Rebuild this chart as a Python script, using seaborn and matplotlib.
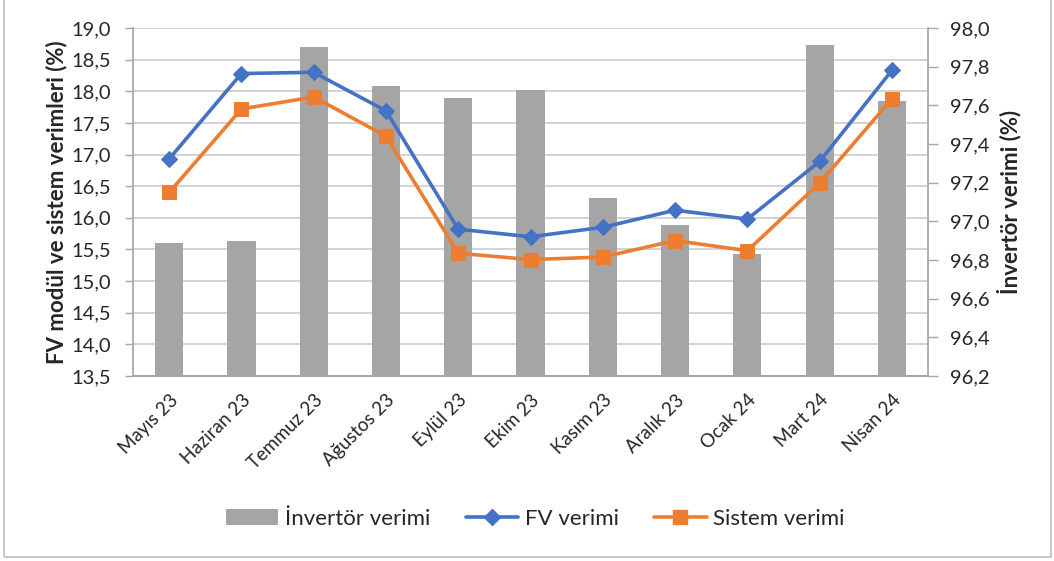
import numpy as np
import pandas as pd
import matplotlib
matplotlib.use("Agg")
import matplotlib.pyplot as plt
import matplotlib.transforms as mtransforms
from matplotlib.patches import Rectangle, Patch
from matplotlib.lines import Line2D
import seaborn as sns

# ---------------------------------------------------------
# DATA
# ---------------------------------------------------------
months = ["Mayıs 23", "Haziran 23", "Temmuz 23", "Ağustos 23", "Eylül 23", "Ekim 23",
          "Kasım 23", "Aralık 23", "Ocak 24", "Mart 24", "Nisan 24"]
inverter_eff = [96.89, 96.90, 97.90, 97.70, 97.64, 97.68, 97.12, 96.98, 96.83, 97.91, 97.62]
fv_eff = [16.93, 18.28, 18.30, 17.69, 15.82, 15.70, 15.85, 16.12, 15.98, 16.89, 18.33]
system_eff = [16.40, 17.72, 17.91, 17.29, 15.44, 15.34, 15.38, 15.64, 15.48, 16.55, 17.88]

left_ticks = np.arange(13.5, 19.01, 0.5)
right_ticks = np.arange(96.2, 98.01, 0.2)

df = pd.DataFrame({"pos": np.arange(len(months)), "month": months,
                   "inv": inverter_eff, "fv": fv_eff, "sys": system_eff})

BLUE = "#4472C4"
ORANGE = "#ED7D31"
GRAY = "#A5A5A5"
AXIS_GRAY = "#A6A6A6"

sns.set_theme(style="white")
plt.rcParams["font.family"] = ["Lato", "DejaVu Sans"]

fig = plt.figure(figsize=(10.54, 5.61), dpi=100)
ax = fig.add_axes([0.1262, 0.3298, 0.8805 - 0.1262, 0.9501 - 0.3298])
ax2 = ax.twinx()

# bars on the right axis
sns.barplot(data=df, x="pos", y="inv", ax=ax2, color=GRAY, width=0.39,
            saturation=1, edgecolor="none", zorder=2)
ax2.set_ylim(96.2, 98.0)

# lines on the left axis
sns.lineplot(data=df, x="pos", y="fv", ax=ax, color=BLUE, lw=2.6, marker="D",
             markersize=8.5, markeredgecolor=BLUE, sort=False, zorder=3)
sns.lineplot(data=df, x="pos", y="sys", ax=ax, color=ORANGE, lw=2.6, marker="s",
             markersize=10, markeredgecolor=ORANGE, sort=False, zorder=3)
ax.set_ylim(13.5, 19.0)
ax.set_xlim(-0.5, len(months) - 0.5)

# lines above bars
ax.set_zorder(ax2.get_zorder() + 1)
ax.patch.set_visible(False)

# gridlines following the left axis, drawn behind the bars
trans = mtransforms.blended_transform_factory(ax2.transAxes, ax.transData)
for v in left_ticks:
    ax2.plot([0, 1], [v, v], transform=trans, color="#C8C8C8", lw=1.1, zorder=0)

# x axis: tick marks between categories, labels at centres
ax.set_xticks(np.arange(-0.5, len(months), 1))
ax.set_xticklabels([])
ax.set_xticks(np.arange(len(months)), minor=True)
ax.set_xticklabels(months, minor=True, rotation=45, ha="right", rotation_mode="anchor",
                   fontsize=13.5)
ax.tick_params(axis="x", which="major", length=7, width=1, color=AXIS_GRAY, direction="out")
ax.tick_params(axis="x", which="minor", length=0, pad=11)
ax.set_xlabel("")

ax.set_yticks(left_ticks)
ax.set_yticklabels([f"{v:.1f}".replace(".", ",") for v in left_ticks], fontsize=14.5)
ax.tick_params(axis="y", length=6, width=1, color=AXIS_GRAY, direction="out", pad=10)
ax2.set_yticks(right_ticks)
ax2.set_yticklabels([f"{v:.1f}".replace(".", ",") for v in right_ticks], fontsize=14.5)
ax2.tick_params(axis="y", length=7, width=1, color=AXIS_GRAY, direction="out", pad=9)

ax.set_ylabel("FV modül ve sistem verimleri (%)", fontsize=16, fontweight="bold", labelpad=3)
ax2.set_ylabel("İnvertör verimi (%)", fontsize=16, fontweight="bold", labelpad=5)

for a in (ax, ax2):
    a.spines["top"].set_visible(False)
    a.spines["left"].set_color(AXIS_GRAY)
    a.spines["right"].set_color(AXIS_GRAY)
    a.spines["bottom"].set_color(AXIS_GRAY)
ax2.spines["left"].set_visible(False)
ax.spines["right"].set_visible(False)

# legend
handles = [
    Patch(facecolor=GRAY, edgecolor="none", label="İnvertör verimi"),
    Line2D([], [], color=BLUE, lw=2.6, marker="D", markersize=8.5, label="FV verimi"),
    Line2D([], [], color=ORANGE, lw=2.6, marker="s", markersize=10, label="Sistem verimi"),
]
fig.legend(handles=handles, loc="center", bbox_to_anchor=(0.508, 0.075), ncol=3,
           frameon=False, fontsize=16, handlelength=2.35, handleheight=0.75,
           handletextpad=0.3, columnspacing=1.6)

# chart border
fig.patches.append(Rectangle((0.004, 0.007), 0.993, 1.2, transform=fig.transFigure,
                             fill=False, edgecolor="#BFBFBF", lw=1.2))

fig.savefig("out.png", dpi=100)
